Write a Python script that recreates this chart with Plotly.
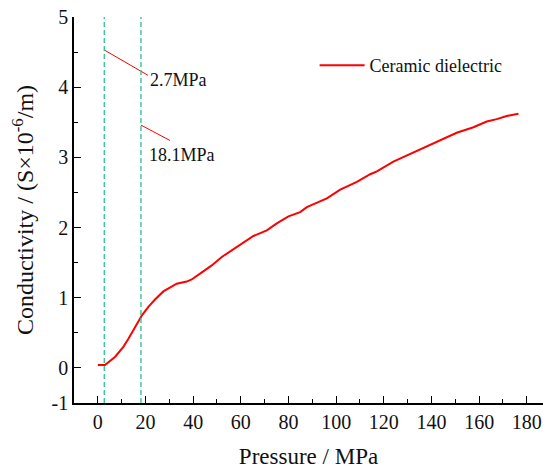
import plotly.graph_objects as go

# Data
pressure = [0, 3, 7.3, 10.7, 12.9, 15.7, 18.5, 21.2, 24, 27.5, 33.1, 37.3, 39.4, 43.2,
            47.8, 52, 56.9, 61.1, 65.3, 70.9, 75.1, 80, 84.9, 87.7, 96.1, 101.7,
            108.7, 114.3, 117.1, 124, 131.1, 134.5, 140.8, 146.5, 150.6, 157.6,
            163.2, 167.4, 171.6, 176.5]
conductivity = [0.04, 0.04, 0.16, 0.30, 0.42, 0.585, 0.75, 0.87, 0.975, 1.09, 1.20, 1.23,
                1.26, 1.35, 1.46, 1.58, 1.69, 1.78, 1.88, 1.96, 2.06, 2.16, 2.22, 2.29,
                2.415, 2.54, 2.65, 2.76, 2.80, 2.94, 3.05, 3.10, 3.19, 3.285, 3.35,
                3.43, 3.51, 3.545, 3.59, 3.62]
series_name = "Ceramic dielectric"

marker_pressures = [2.7, 18.1]
marker_labels = ["2.7MPa", "18.1MPa"]
# leader line (x0, y0) -> (x1, y1) and label anchor, in data units
leader_x0 = [2.7, 18.1]
leader_y0 = [4.53, 3.46]
leader_x1 = [21.0, 30.3]
leader_y1 = [4.17, 3.24]
label_x = [21.0, 20.6]
label_y = [4.10, 3.03]

x_tickvals = [0, 20, 40, 60, 80, 100, 120, 140, 160, 180]
x_ticktext = [str(v) for v in x_tickvals]
y_tickvals = [-0.5, 0, 1, 2, 3, 4, 5]
y_ticktext = ["-1", "0", "1", "2", "3", "4", "5"]

FONT = "Liberation Serif"
RED = "#ff0000"
GREEN = "#2dbf8c"

fig = go.Figure()

fig.add_trace(go.Scatter(x=pressure, y=conductivity, mode="lines", name=series_name,
                         line=dict(color=RED, width=2)))

for i in range(len(marker_pressures)):
    fig.add_vline(x=marker_pressures[i], line=dict(color=GREEN, width=1.3, dash="5px,3px"))
    fig.add_trace(go.Scatter(x=[leader_x0[i], leader_x1[i]], y=[leader_y0[i], leader_y1[i]],
                             mode="lines", line=dict(color=RED, width=1), showlegend=False,
                             hoverinfo="skip"))
    fig.add_annotation(x=label_x[i], y=label_y[i], text=marker_labels[i], showarrow=False,
                       xanchor="left", yanchor="middle", font=dict(family=FONT, size=18, color="#111"))

fig.update_layout(
    width=543, height=470,
    margin=dict(l=74, r=0, t=17, b=67),
    paper_bgcolor="white", plot_bgcolor="white",
    font=dict(family=FONT, size=20, color="#111"),
    showlegend=True,
    legend=dict(x=0.513, y=0.874, xanchor="left", yanchor="middle",
                bgcolor="rgba(0,0,0,0)", itemwidth=45,
                font=dict(family=FONT, size=18, color="#111")),
    xaxis=dict(range=[-10, 186.8], showgrid=False, zeroline=False,
               showline=True, linecolor="black", linewidth=1.5,
               tickmode="array", tickvals=x_tickvals, ticktext=x_ticktext,
               ticks="inside", ticklen=7, tickwidth=1.2, tickcolor="black",
               minor=dict(ticks="inside", ticklen=4, dtick=10, tick0=0, tickcolor="black", tickwidth=1.2),
               title=dict(text="Pressure / MPa", font=dict(family=FONT, size=23), standoff=16),
               automargin=False),
    yaxis=dict(range=[-0.5, 5], showgrid=False, zeroline=False,
               showline=True, linecolor="black", linewidth=1.5,
               tickmode="array", tickvals=y_tickvals, ticktext=y_ticktext,
               ticks="inside", ticklen=7, tickwidth=1.2, tickcolor="black",
               minor=dict(ticks="inside", ticklen=4, tickvals=[0.5, 1.5, 2.5, 3.5, 4.5],
                          tickcolor="black", tickwidth=1.2),
               title=dict(text="Conductivity / (S×10<sup>-6</sup>/m)", font=dict(family=FONT, size=24),
                          standoff=11),
               automargin=False),
)

fig.write_html("out.html")
